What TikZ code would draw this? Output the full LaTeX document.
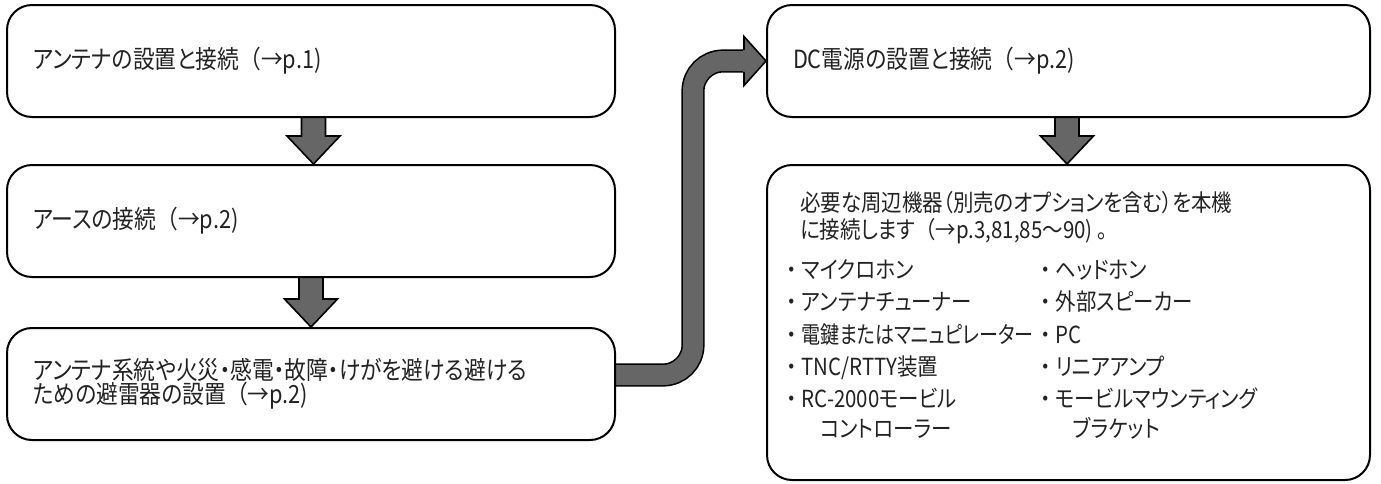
\documentclass[tikz,border=0pt]{standalone}
\usepackage{fontspec}
\newfontfamily\jp[RawFeature=+palt, FakeStretch=0.87]{Noto Sans CJK JP}
\newfontfamily\jpn[RawFeature=+palt, FakeStretch=0.81]{Noto Sans CJK JP}
\newfontfamily\jpf[FakeStretch=0.87]{Noto Sans CJK JP}
\usetikzlibrary{calc,backgrounds}
\definecolor{arrowgray}{HTML}{666666}
\definecolor{txt}{HTML}{222222}
\newcommand\fatdown[3]{%
  \filldraw[fat] let \p1=(#1.south), \p2=(#2.north) in
    (#3-12,\y1) -- (#3-12,\y2+28) -- (#3-26.5,\y2+28) -- (#3,\y2)
    -- (#3+26.5,\y2+28) -- (#3+12,\y2+28) -- (#3+12,\y1);}
\newcommand\bul{{\jpf ・}}
\newcommand\lp{{\jpf （}}
\begin{document}
\begin{tikzpicture}[x=1pt,y=1pt,
  box/.style={draw=black, line width=2pt, rounded corners=25pt, inner xsep=26pt,
    inner ysep=0pt, align=left, font=\jp\fontsize{25}{24.5}\selectfont, text=txt},
  txtnode/.style={inner sep=0pt, anchor=base west, font=\jp\fontsize{23.5}{24.5}\selectfont, text=txt},
  fat/.style={fill=arrowgray, draw=black, line width=1.6pt, line join=miter}]
\useasboundingbox (0,0) rectangle (1381,-483);
% left column
\node[box, minimum width=608pt, minimum height=112pt, text width=556pt] (b1) at (311,-61)
  {アンテナの設置と接続\lp→p.1)};
\node[box, minimum width=608pt, minimum height=112pt, text width=556pt] (b2) at (311,-221)
  {アースの接続\lp→p.2)};
\node[box, minimum width=608pt, minimum height=112pt, text width=556pt] (b3) at (311,-384)
  {アンテナ系統や火災・感電・故障・けがを避ける避ける\\ための避雷器の設置\lp→p.2)};
% right column
\node[box, minimum width=603pt, minimum height=112pt, text width=551pt] (b4) at (1068.5,-61)
  {DC電源の設置と接続\lp→p.2)};
\node[box, minimum width=603pt, minimum height=315pt] (b5) at (1068.5,-322.5) {};
% contents of b5
\node[txtnode] (i1) at (800,-211) {必要な周辺機器（別売のオプションを含む）を本機};
\node[txtnode] (i2) at (800,-238) {に接続します\lp→p.3,81,85～90) 。};
\node[txtnode] (l1) at (781,-278) {\bul マイクロホン};
\node[txtnode] (l2) at (781,-310) {\bul アンテナチューナー};
\node[txtnode] (l3) at (781,-343) {\bul{\jpn 電鍵またはマニュピレーター}};
\node[txtnode] (l4) at (781,-375) {\bul TNC/RTTY装置};
\node[txtnode] (l5) at (781,-407) {\bul RC-2000モービル};
\node[txtnode] (l5b) at (820,-437) {コントローラー};
\node[txtnode] (r1) at (1035,-278) {\bul ヘッドホン};
\node[txtnode] (r2) at (1035,-310) {\bul 外部スピーカー};
\node[txtnode] (r3) at (1035,-343) {\bul PC};
\node[txtnode] (r4) at (1035,-375) {\bul リニアアンプ};
\node[txtnode] (r5) at (1035,-407) {\bul モービルマウンティング};
\node[txtnode] (r5b) at (1073,-437) {ブラケット};
% arrows
\begin{scope}[on background layer]
\fatdown{b1}{b2}{313.5}
\fatdown{b2}{b3}{311}
\fatdown{b4}{b5}{1067}
\draw[line width=1.6pt, draw=black, double=arrowgray, double distance=20pt,
      rounded corners=30pt]
  ($(b3.east)+(0,9)$) -- ++(77,0) |- ($(b4.west)+(-22,0)$);
\fill[arrowgray] ($(b4.west)+(-23,24.5)$) -- (b4.west) -- ($(b4.west)+(-23,-24.5)$) -- cycle;
\draw[line width=1.6pt, line join=miter]
  ($(b4.west)+(-22,10.8)$) -- ($(b4.west)+(-22,24.5)$) -- (b4.west)
  -- ($(b4.west)+(-22,-24.5)$) -- ($(b4.west)+(-22,-10.8)$);
\end{scope}
\end{tikzpicture}
\end{document}
